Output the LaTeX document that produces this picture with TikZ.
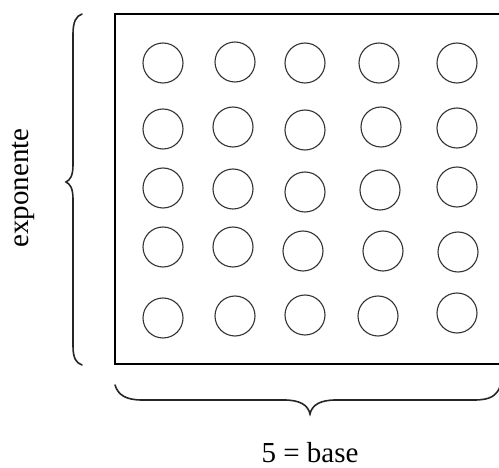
\documentclass[tikz,border=0pt]{standalone}
\usepackage{fontspec}
\setmainfont{Liberation Serif}
\begin{document}
\begin{tikzpicture}[x=1pt,y=-1pt,
  dot/.style={circle,draw=black!80,line width=1.1pt,minimum size=40pt,inner sep=0pt},
  frame/.style={draw=black,line width=2pt},
  bracepath/.style={draw=black!85,line width=1.6pt,line cap=round},
  lbl/.style={inner sep=0pt,font=\fontsize{29}{34}\selectfont}]
\useasboundingbox (0,0) rectangle (499,468);
\draw[frame] (510,14) -- (115,14) -- (115,364) -- (510,364);
% circles
\foreach \r/\y/\xa/\ya/\xb/\yb/\xc/\yc/\xd/\yd/\xe/\ye in {
  1/63/163/63/235/62/305/63/379/63/457/63,
  2/128/163/129/233/127/305/130/381/127/457/128,
  3/189/163/188/233/189/305/192/380/190/457/187,
  4/249/163/247/233/247/303/251/383/251/458/252,
  5/316/163/318/235/316/305/315/378/316/457/313}{
  \node[dot] (c\r1) at (\xa,\ya) {};
  \node[dot] (c\r2) at (\xb,\yb) {};
  \node[dot] (c\r3) at (\xc,\yc) {};
  \node[dot] (c\r4) at (\xd,\yd) {};
  \node[dot] (c\r5) at (\xe,\ye) {};
}
% left brace
\draw[bracepath] (82,14) .. controls (76,16) and (73,22) .. (73,34) -- (73,165)
  .. controls (73,176) and (70,180) .. (66,182)
  .. controls (70,184) and (73,188) .. (73,199) -- (73,346)
  .. controls (73,358) and (76,363) .. (82,365);
% bottom brace
\draw[bracepath] (115,385) .. controls (118,395) and (126,400) .. (142,400) -- (284,400)
  .. controls (300,400) and (308,405) .. (310,414)
  .. controls (312,405) and (320,400) .. (336,400) -- (474,400)
  .. controls (490,400) and (496,396) .. (500,387);
\node[lbl,rotate=90,anchor=base] (exp) at (28,188) {exponente};
\node[lbl,anchor=base] (base) at (310,462) {5 = base};
\end{tikzpicture}
\end{document}
